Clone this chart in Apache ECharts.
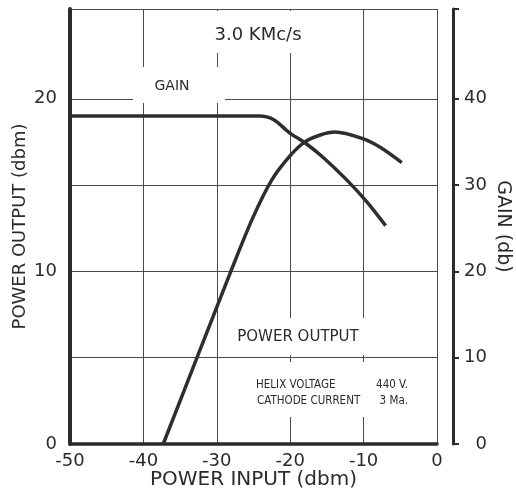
<!DOCTYPE html>
<html><head><meta charset="utf-8">
<script src="https://cdn.jsdelivr.net/npm/echarts@6/dist/echarts.min.js"></script>
<style>html,body{margin:0;padding:0;background:#fff}#c{width:516px;height:498px}</style>
</head><body><div id="c"></div>
<script>
// ---- data ----
const powerOutputLabels = [0, 10, 20];           // left axis (dbm)
const gainLabels = [0, 10, 20, 30, 40];          // right axis (db)
const powerInput = [-37.3, -32.7, -27.9, -25.1, -22.5, -20, -18, -15.9, -13.9, -10.2, -7.8, -4.8];
const powerOutput = [0, 5, 10.2, 13.1, 15.3, 16.7, 17.5, 17.9, 18.07, 17.7, 17.2, 16.3];
const gainInput = [-50, -24.2, -22.3, -20, -18, -15.5, -12.3, -9.5, -7];
const gainDb = [38, 38, 37.6, 36, 34.9, 33.2, 30.6, 28, 25.3];

const FONT = 'DejaVu Sans';
const INK = '#2b2b2b';
const GRIDC = '#4a4a4a';

const chart = echarts.init(document.getElementById('c'), null, {renderer: 'canvas'});

function box(x, y, w, h) {
  return {type: 'rect', z: 5, shape: {x: x, y: y, width: w, height: h}, style: {fill: '#fff'}};
}
function txt(s, x, y, size, align, fam) {
  return {type: 'text', z: 6, x: x, y: y,
    style: {text: s, fill: INK, font: size + 'px "' + (fam || FONT) + '"', textAlign: align || 'center', textVerticalAlign: 'middle'}};
}
const NARROW = 'DejaVu Sans Condensed", "Liberation Sans Narrow", "DejaVu Sans';

chart.setOption({
  animation: false,
  backgroundColor: '#fff',
  grid: {left: 70, right: 79, top: 9, bottom: 54, containLabel: false, outerBoundsMode: 'none'},
  xAxis: {
    type: 'value', min: -50, max: 0, interval: 10,
    axisLine: {onZero: false, lineStyle: {color: INK, width: 3.5}},
    axisTick: {show: false},
    axisLabel: {fontFamily: FONT, fontSize: 18, color: INK, margin: 8},
    splitLine: {show: true, lineStyle: {color: GRIDC, width: 1}},
    name: 'POWER INPUT (dbm)', nameLocation: 'middle', nameGap: 26, nameMoveOverlap: false,
    nameTextStyle: {fontFamily: FONT, fontSize: 20, color: INK}
  },
  yAxis: [{
    type: 'value', min: 0, max: 25.2, interval: 5, position: 'left',
    axisLine: {show: true, onZero: false, lineStyle: {color: INK, width: 4}},
    axisTick: {show: false},
    axisLabel: {customValues: powerOutputLabels, fontFamily: FONT, fontSize: 18, color: INK, margin: 13},
    splitLine: {show: true, lineStyle: {color: [GRIDC, GRIDC, GRIDC, GRIDC, GRIDC, 'rgba(0,0,0,0)', GRIDC], width: 1}},
    name: 'POWER OUTPUT (dbm)', nameLocation: 'middle', nameRotate: 90, nameGap: 41, nameMoveOverlap: false,
    nameTextStyle: {fontFamily: FONT, fontSize: 18, color: INK}
  }, {
    type: 'value', min: 0, max: 50.4, interval: 10, position: 'right', offset: 16,
    axisLine: {show: true, onZero: false, lineStyle: {color: INK, width: 3}},
    axisTick: {show: true, inside: false, length: 6, customValues: [0, 10, 20, 30, 40, 50.4], lineStyle: {color: INK, width: 2}},
    axisLabel: {customValues: gainLabels, fontFamily: FONT, fontSize: 18, color: INK, margin: 34, align: 'right'},
    splitLine: {show: false},
    name: 'GAIN (db)', nameLocation: 'middle', nameRotate: -90, nameGap: 40, nameMoveOverlap: false,
    nameTextStyle: {fontFamily: FONT, fontSize: 19, color: INK}
  }],
  graphic: [
    box(195, 11, 130, 42),
    box(133, 67, 92, 36),
    box(225, 318, 190, 37),
    box(225, 362, 190, 55),
    txt('3.0 KMc/s', 258, 35, 18),
    txt('GAIN', 172, 86, 14),
    txt('POWER OUTPUT', 298, 337, 15),
    txt('HELIX VOLTAGE', 256, 385, 11.5, 'left', NARROW),
    txt('440 V.', 408, 385, 11.5, 'right', NARROW),
    txt('CATHODE CURRENT', 257, 401, 11.5, 'left', NARROW),
    txt('3 Ma.', 408, 401, 11.5, 'right', NARROW)
  ],
  series: [{
    name: 'POWER OUTPUT', type: 'line', yAxisIndex: 0, showSymbol: false,
    smooth: 0.3, z: 3,
    lineStyle: {color: '#2e2e2e', width: 3.5},
    data: powerInput.map((x, i) => [x, powerOutput[i]])
  }, {
    name: 'GAIN', type: 'line', yAxisIndex: 1, showSymbol: false,
    smooth: 0.3, z: 3,
    lineStyle: {color: '#2e2e2e', width: 3.5},
    data: gainInput.map((x, i) => [x, gainDb[i]])
  }]
});
</script>
</body></html>
